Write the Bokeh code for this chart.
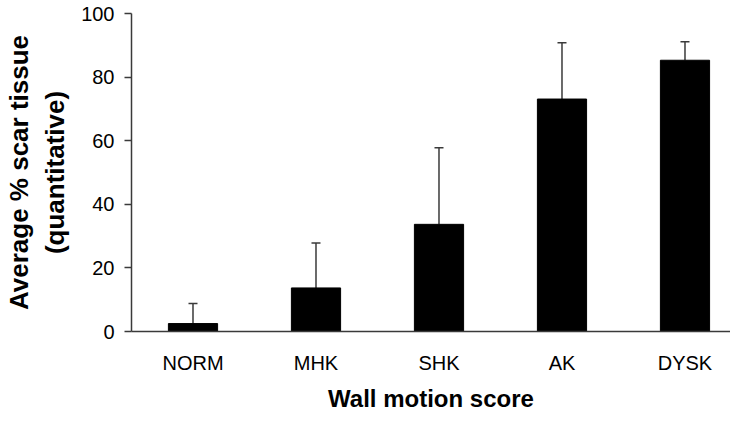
from bokeh.plotting import figure
from bokeh.models import ColumnDataSource, Range1d, FixedTicker, Whisker, TeeHead
from bokeh.embed import file_html
from bokeh.resources import INLINE

categories = ["NORM", "MHK", "SHK", "AK", "DYSK"]
means = [2.5, 13.7, 33.7, 73.1, 85.3]
errors = [6.3, 14.1, 24.1, 17.7, 5.8]
y_ticks = [0, 20, 40, 60, 80, 100]

xpos = [i + 0.5 for i in range(len(categories))]
upper = [m + e for m, e in zip(means, errors)]

src = ColumnDataSource(dict(x=xpos, cat=categories, mean=means, upper=upper))

FONT = "Liberation Sans"
AXIS_COLOR = "#3a3a3a"

p = figure(width=730, height=414,
           x_range=Range1d(0, 4.87), y_range=Range1d(0, 100),
           output_backend="svg", toolbar_location=None,
           min_border_left=131, min_border_right=0,
           min_border_top=13, min_border_bottom=81)

p.vbar(x="x", top="mean", width=0.4, source=src,
       fill_color="black", line_color="black")

wh = Whisker(base="x", upper="upper", lower="mean", source=src,
             line_color=AXIS_COLOR, line_width=1.5,
             upper_head=TeeHead(size=9, line_color=AXIS_COLOR, line_width=1.5),
             lower_head=None)
p.add_layout(wh)

p.grid.visible = False
p.outline_line_color = None
p.background_fill_color = "white"
p.border_fill_color = "white"

xa = p.xaxis[0]
xa.ticker = FixedTicker(ticks=xpos)
xa.major_label_overrides = {x: c for x, c in zip(xpos, categories)}
xa.major_tick_line_color = None
xa.major_tick_out = 0
xa.major_tick_in = 0
xa.minor_tick_line_color = None
xa.axis_line_color = AXIS_COLOR
xa.axis_line_width = 1.5
xa.major_label_text_font = FONT
xa.major_label_text_font_size = "20px"
xa.major_label_text_color = "black"
xa.major_label_standoff = 20
xa.axis_label = "Wall motion score"
xa.axis_label_text_font = FONT
xa.axis_label_text_font_size = "24px"
xa.axis_label_text_font_style = "bold"
xa.axis_label_text_color = "black"
xa.axis_label_standoff = 8

ya = p.yaxis[0]
ya.ticker = FixedTicker(ticks=y_ticks)
ya.minor_tick_line_color = None
ya.major_tick_out = 7
ya.major_tick_in = 0
ya.major_tick_line_color = AXIS_COLOR
ya.major_tick_line_width = 1.5
ya.axis_line_color = AXIS_COLOR
ya.axis_line_width = 1.5
ya.major_label_text_font = FONT
ya.major_label_text_font_size = "20px"
ya.major_label_text_color = "black"
ya.major_label_standoff = 10
ya.axis_label = "Average % scar tissue\n(quantitative)"
ya.axis_label_text_font = FONT
ya.axis_label_text_font_size = "26px"
ya.axis_label_text_font_style = "bold"
ya.axis_label_text_color = "black"
ya.axis_label_standoff = 8

open("out.html", "w").write(file_html(p, INLINE))
